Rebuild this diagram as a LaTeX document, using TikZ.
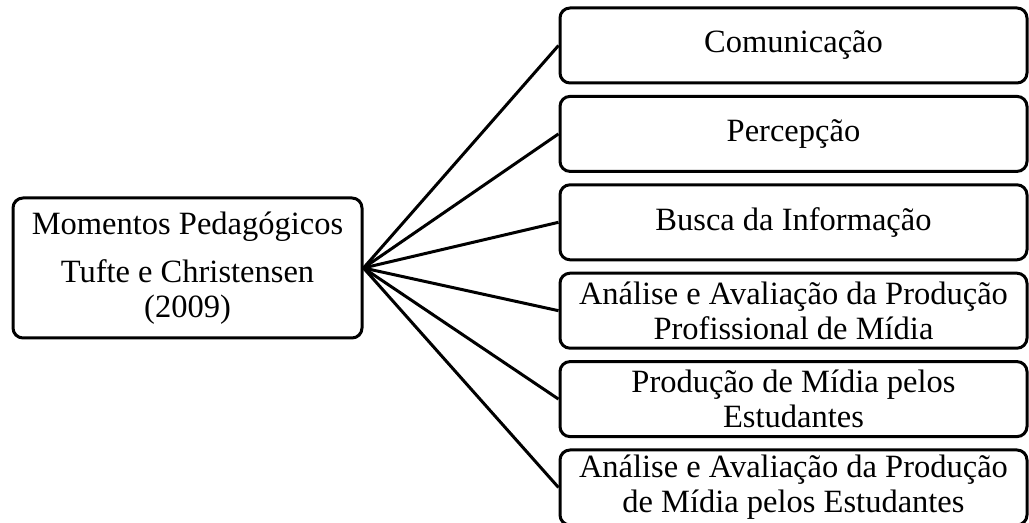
\documentclass[tikz,border=0pt]{standalone}
\usepackage{fontspec}
\setmainfont{Liberation Serif}
\usepackage{tikz}
\usetikzlibrary{positioning}

\begin{document}
\begin{tikzpicture}[
  x=0.5pt, y=-0.5pt,
  % ── Style definitions ──
  box/.style={
    rectangle, rounded corners=5pt,
    draw=black, line width=1.5pt,
    align=center, inner sep=2pt,
    font=\fontsize{16.25}{17.5}\selectfont
  },
  mom/.style={box, minimum width=233.5pt, minimum height=37.5pt},
  ctr/.style={box, minimum width=174.5pt, minimum height=70pt},
  lnk/.style={line width=1.5pt},
  % ── Node placement ──
  node distance=5.2pt
]
\useasboundingbox (0,0) rectangle (1029,523);

% ─────────── Central node ───────────────────────────────────
\node[ctr] (mp) at (187.5,268)
  {Momentos Pedagógicos\\[6.5pt]Tufte e Christensen\\(2009)};

% ─────────── Moments column ─────────────────────────────────
\node[mom] (com) at (793.5,45.5) {Comunicação};
\node[mom, below=of com]   (perc)  {Percepção};
\node[mom, below=of perc]  (busca) {Busca da Informação};
\node[mom, below=of busca] (anpro) {Análise e Avaliação da Produção\\Profissional de Mídia};
\node[mom, below=of anpro] (prod)  {Produção de Mídia pelos\\Estudantes};
\node[mom, below=of prod]  (anest) {Análise e Avaliação da Produção\\de Mídia pelos Estudantes};

% ─────────── Connectors ─────────────────────────────────────
\draw[lnk] (mp.east) -- (com.west);
\draw[lnk] (mp.east) -- (perc.west);
\draw[lnk] (mp.east) -- (busca.west);
\draw[lnk] (mp.east) -- (anpro.west);
\draw[lnk] (mp.east) -- (prod.west);
\draw[lnk] (mp.east) -- (anest.west);
\end{tikzpicture}
\end{document}
